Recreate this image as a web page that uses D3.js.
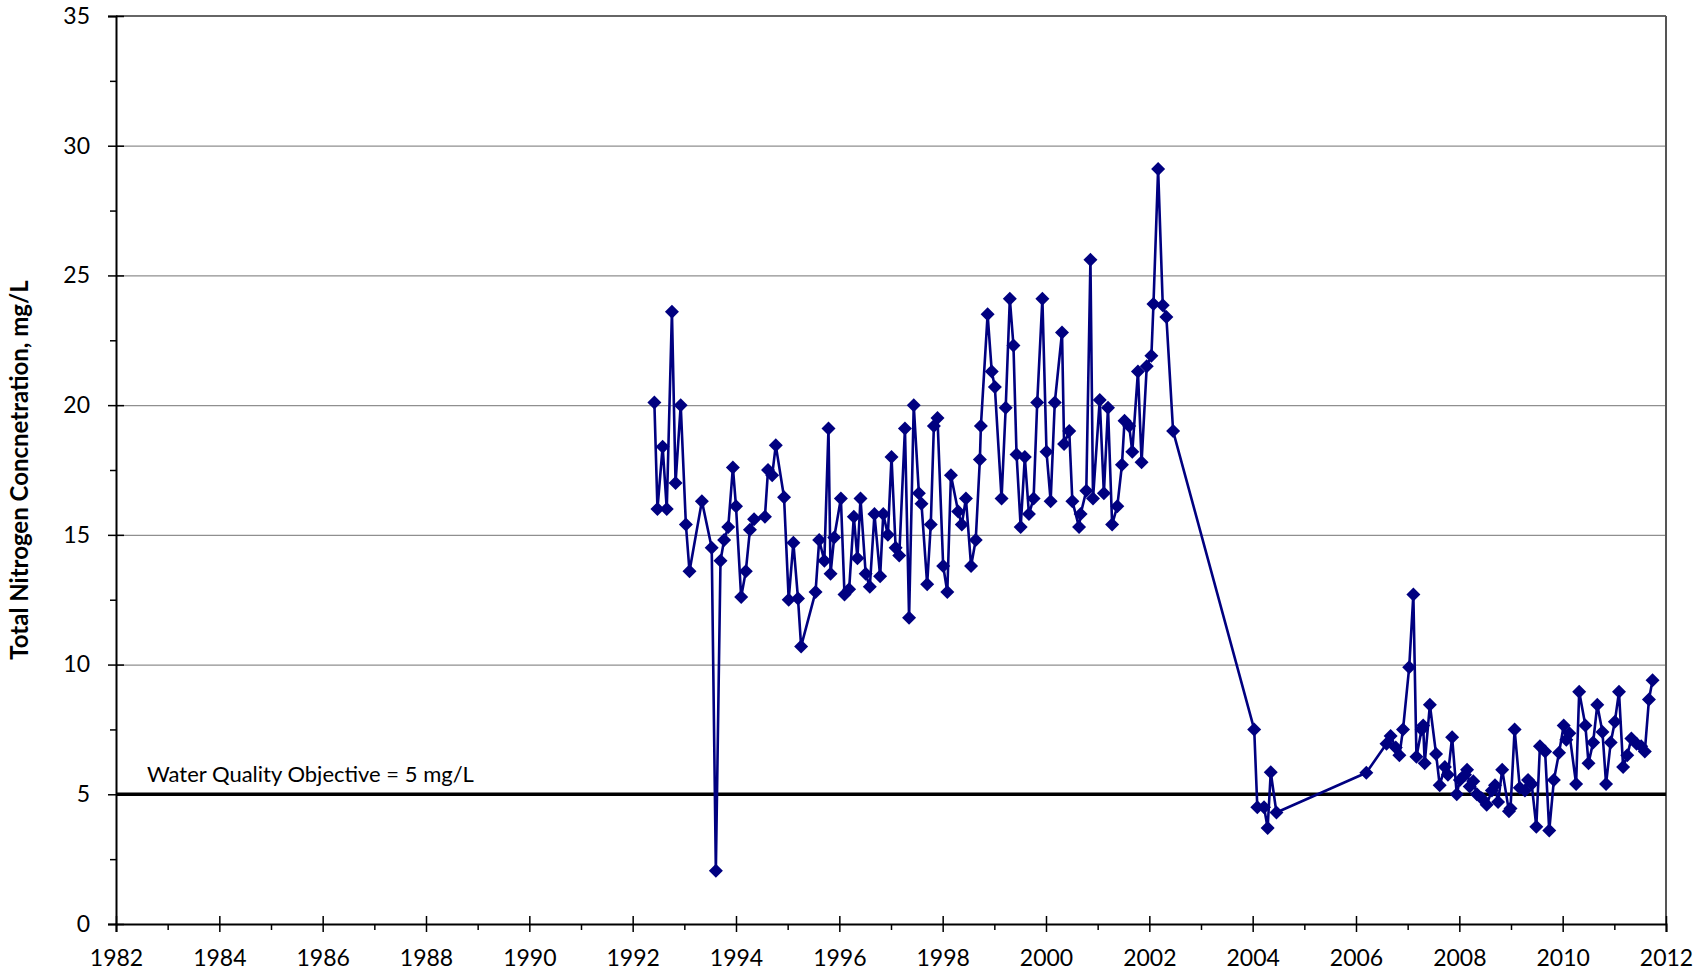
<!DOCTYPE html>
<html>
<head>
<meta charset="utf-8">
<title>Total Nitrogen Concentration</title>
<script src="https://d3js.org/d3.v7.min.js"></script>
<style>
  body { margin: 0; background: #fff; }
  svg text { font-family: Lato, "Open Sans", sans-serif; fill: #000; }
</style>
</head>
<body>
<div id="chart"></div>
<script>
// sample dates (decimal years) and total nitrogen values, mg/L
const sampleYears = [
  1992.42, 1992.48, 1992.58, 1992.66, 1992.76, 1992.83, 1992.93, 1993.03, 1993.10, 1993.34,
  1993.53, 1993.61, 1993.70, 1993.77, 1993.85, 1993.94, 1994.00, 1994.10, 1994.19, 1994.27,
  1994.35, 1994.56, 1994.62, 1994.70, 1994.77, 1994.93, 1995.02, 1995.11, 1995.20, 1995.26,
  1995.54, 1995.61, 1995.71, 1995.79, 1995.83, 1995.90, 1996.03, 1996.10, 1996.19, 1996.28,
  1996.35, 1996.41, 1996.51, 1996.59, 1996.68, 1996.79, 1996.85, 1996.94, 1997.01, 1997.09,
  1997.16, 1997.27, 1997.35, 1997.44, 1997.54, 1997.59, 1997.70, 1997.77, 1997.83, 1997.90,
  1998.01, 1998.09, 1998.16, 1998.30, 1998.37, 1998.45, 1998.55, 1998.64, 1998.72, 1998.74,
  1998.87, 1998.95, 1999.01, 1999.14, 1999.22, 1999.30, 1999.37, 1999.43, 1999.51, 1999.59,
  1999.67, 1999.76, 1999.83, 1999.93, 2000.01, 2000.09, 2000.17, 2000.31, 2000.35, 2000.45,
  2000.51, 2000.64, 2000.67, 2000.78, 2000.86, 2000.91, 2001.04, 2001.12, 2001.20, 2001.28,
  2001.38, 2001.47, 2001.52, 2001.61, 2001.67, 2001.78, 2001.85, 2001.95, 2002.04, 2002.08,
  2002.17, 2002.26, 2002.33, 2002.46,
  2004.03, 2004.09, 2004.22, 2004.29, 2004.35, 2004.46,
  2006.20, 2006.59, 2006.67, 2006.77, 2006.84, 2006.91, 2007.03, 2007.11, 2007.17, 2007.27,
  2007.30, 2007.33, 2007.43, 2007.55, 2007.62, 2007.72, 2007.78, 2007.86, 2007.95, 2008.01,
  2008.11, 2008.15, 2008.20, 2008.27, 2008.34, 2008.43, 2008.53, 2008.63, 2008.69, 2008.75,
  2008.83, 2008.96, 2008.99, 2009.07, 2009.17, 2009.27, 2009.33, 2009.40, 2009.49, 2009.56,
  2009.66, 2009.74, 2009.83, 2009.93, 2010.02, 2010.07, 2010.13, 2010.26, 2010.32, 2010.44,
  2010.50, 2010.59, 2010.67, 2010.77, 2010.84, 2010.93, 2011.01, 2011.09, 2011.17, 2011.25,
  2011.33, 2011.43, 2011.52, 2011.59, 2011.67, 2011.74
];
const nitrogen = [
  20.1, 16.0, 18.4, 16.0, 23.6, 17.0, 20.0, 15.4, 13.6, 16.3,
  14.5, 2.05, 14.0, 14.8, 15.3, 17.6, 16.1, 12.6, 13.6, 15.2,
  15.6, 15.7, 17.5, 17.3, 18.45, 16.45, 12.5, 14.7, 12.55, 10.7,
  12.8, 14.8, 14.0, 19.1, 13.5, 14.9, 16.4, 12.7, 12.9, 15.7,
  14.1, 16.4, 13.5, 13.0, 15.8, 13.4, 15.8, 15.0, 18.0, 14.5,
  14.2, 19.1, 11.8, 20.0, 16.6, 16.2, 13.1, 15.4, 19.2, 19.5,
  13.8, 12.8, 17.3, 15.9, 15.4, 16.4, 13.8, 14.8, 17.9, 19.2,
  23.5, 21.3, 20.7, 16.4, 19.9, 24.1, 22.3, 18.1, 15.3, 18.0,
  15.8, 16.4, 20.1, 24.1, 18.2, 16.3, 20.1, 22.8, 18.5, 19.0,
  16.3, 15.3, 15.8, 16.7, 25.6, 16.4, 20.2, 16.6, 19.9, 15.4,
  16.1, 17.7, 19.4, 19.2, 18.2, 21.3, 17.8, 21.5, 21.9, 23.9,
  29.1, 23.85, 23.4, 19.0,
  7.5, 4.5, 4.5, 3.7, 5.85, 4.3,
  5.83, 6.95, 7.25, 6.8, 6.5, 7.5, 9.9, 12.7, 6.45, 7.5,
  7.65, 6.2, 8.45, 6.55, 5.35, 6.05, 5.75, 7.2, 5.0, 5.55,
  5.75, 5.95, 5.3, 5.5, 5.0, 4.85, 4.6, 5.15, 5.35, 4.7,
  5.95, 4.35, 4.45, 7.5, 5.25, 5.15, 5.55, 5.4, 3.75, 6.85,
  6.65, 3.6, 5.55, 6.6, 7.65, 7.1, 7.35, 5.4, 8.95, 7.65,
  6.2, 7.0, 8.45, 7.4, 5.4, 7.0, 7.8, 8.95, 6.05, 6.5,
  7.15, 6.95, 6.85, 6.65, 8.65, 9.4
];

const yearTicks = d3.range(1982, 2013, 2);
const minorYearTicks = d3.range(1983, 2012, 2);
const valueTicks = d3.range(0, 36, 5);
const minorValueTicks = d3.range(2.5, 35, 5);
const objective = 5;
const objectiveLabel = "Water Quality Objective = 5 mg/L";
const yTitle = "Total Nitrogen Concnetration, mg/L";

const W = 1705, H = 974;
const margin = { top: 16, right: 39, bottom: 50, left: 116 },
      width = W - margin.left - margin.right,
      height = H - margin.top - margin.bottom;

const svg = d3.select("#chart").append("svg")
    .attr("width", W)
    .attr("height", H);
const g = svg.append("g")
    .attr("transform", `translate(${margin.left},${margin.top})`);

const x = d3.scaleLinear().domain([1982, 2012]).range([0, width]);
const y = d3.scaleLinear().domain([0, 35]).range([height, 0]);

// gridlines
g.append("g")
    .attr("class", "grid")
    .call(d3.axisLeft(y).tickValues(valueTicks.filter(v => v > 0 && v < 35)).tickSize(-width).tickFormat(""))
    .call(s => s.select(".domain").remove())
    .selectAll("line").attr("stroke", "#8f8f8f").attr("stroke-width", 1.2);

// top and right border
g.append("line").attr("x1", 0).attr("x2", width).attr("y1", 0).attr("y2", 0)
    .attr("stroke", "#333").attr("stroke-width", 1.5);
g.append("line").attr("x1", width).attr("x2", width).attr("y1", 0).attr("y2", height)
    .attr("stroke", "#555").attr("stroke-width", 2);

// objective line
g.append("line")
    .attr("x1", 0).attr("x2", width)
    .attr("y1", y(objective)).attr("y2", y(objective))
    .attr("stroke", "#000").attr("stroke-width", 3.5);
g.append("text")
    .attr("x", x(1982.6)).attr("y", y(objective) - 12)
    .style("font-size", "22px")
    .text(objectiveLabel);

// x axis
const xAxis = g.append("g").attr("class", "axis").attr("transform", `translate(0,${height})`);
xAxis.call(d3.axisBottom(x).tickValues(yearTicks).tickFormat(d3.format("d")).tickSize(8).tickPadding(18));
xAxis.append("g").call(d3.axisTop(x).tickValues(yearTicks).tickSize(8).tickFormat(""))
    .call(s => s.select(".domain").remove());
xAxis.append("g").call(d3.axisBottom(x).tickValues(minorYearTicks).tickSize(6).tickFormat(""))
    .call(s => s.select(".domain").remove());

// y axis
const yAxis = g.append("g").attr("class", "axis");
yAxis.call(d3.axisLeft(y).tickValues(valueTicks).tickSize(8).tickPadding(18));
yAxis.append("g").call(d3.axisRight(y).tickValues(valueTicks).tickSize(8).tickFormat(""))
    .call(s => s.select(".domain").remove());
yAxis.append("g").call(d3.axisLeft(y).tickValues(minorValueTicks).tickSize(6).tickFormat(""))
    .call(s => s.select(".domain").remove());

g.selectAll(".axis .tick text").style("font-size", "23px").attr("fill", "#000").style("font-family", "Lato, sans-serif");
g.selectAll(".axis .domain, .axis .tick line").attr("stroke", "#000");
xAxis.select(".domain").attr("stroke-width", 2);
yAxis.select(".domain").attr("stroke-width", 2);
g.selectAll(".axis .tick line").attr("stroke-width", 1.5);

// y title
svg.append("text")
    .attr("transform", `translate(28,${margin.top + height / 2}) rotate(-90)`)
    .attr("text-anchor", "middle")
    .style("font-size", "24px")
    .style("font-weight", "bold")
    .text(yTitle);

// series
const data = sampleYears.map((yr, i) => ({ yr, v: nitrogen[i] }));
const line = d3.line().x(d => x(d.yr)).y(d => y(d.v));

g.append("path")
    .datum(data)
    .attr("fill", "none")
    .attr("stroke", "#000080")
    .attr("stroke-width", 2.6)
    .attr("stroke-linejoin", "round")
    .attr("d", line);

g.append("g")
    .selectAll("path")
    .data(data)
    .enter().append("path")
    .attr("d", d3.symbol(d3.symbolSquare, 98))
    .attr("transform", d => `translate(${x(d.yr)},${y(d.v)}) rotate(45)`)
    .attr("fill", "#000080");
</script>
</body>
</html>
